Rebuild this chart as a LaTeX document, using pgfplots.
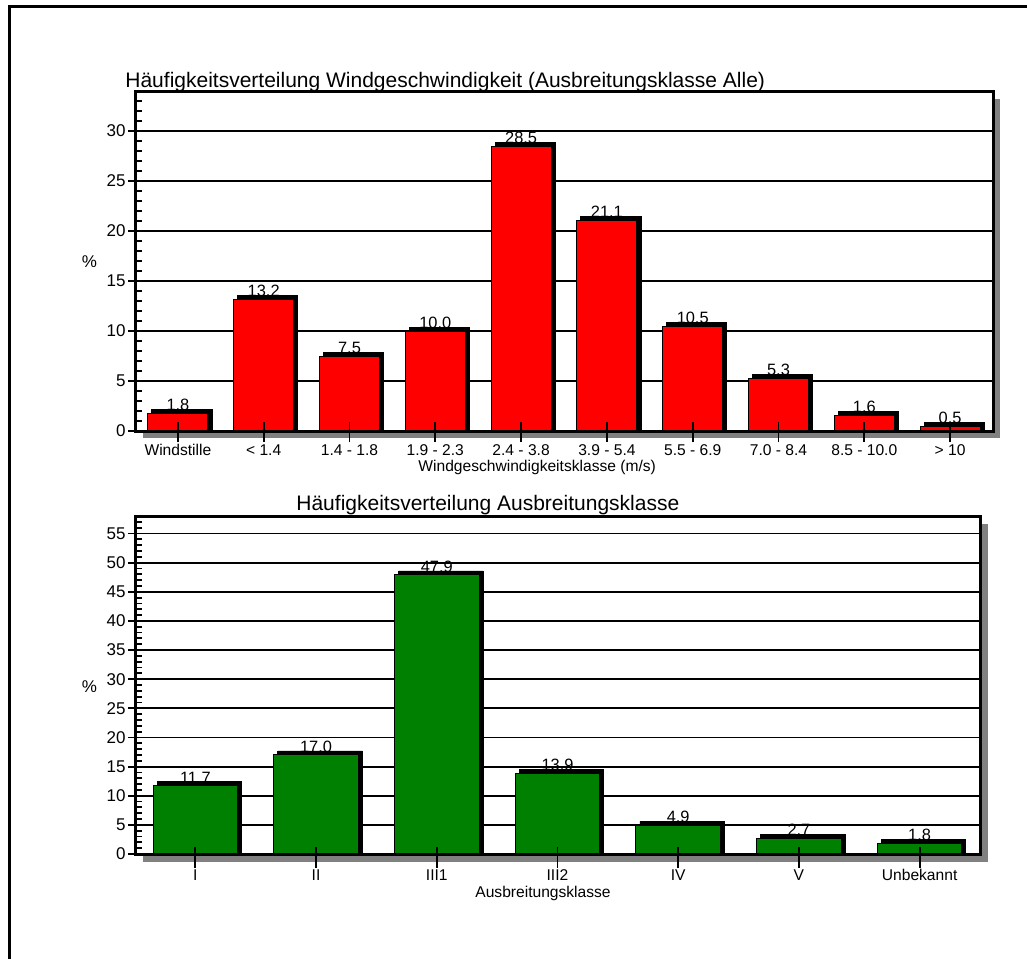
\documentclass[border=0pt]{standalone}
\usepackage{fontspec}
\setmainfont{Liberation Sans}
\usepackage{pgfplots}
\usepackage{pgfplotstable}
\pgfplotsset{compat=1.18}
\definecolor{shadowgray}{HTML}{808080}
\definecolor{barred}{HTML}{FF0000}
\definecolor{bargreen}{HTML}{008000}
\newcommand\titlefont{\fontsize{10.5pt}{12pt}\selectfont}
\newcommand\labfont{\fontsize{7.8pt}{9pt}\selectfont}
\newcommand\ytfont{\fontsize{8.5pt}{10pt}\selectfont}
\newcommand\valfont{\fontsize{8.2pt}{10pt}\selectfont}

\pgfplotstableread{
x y
0 1.8
1 13.2
2 7.5
3 10.0
4 28.5
5 21.1
6 10.5
7 5.3
8 1.6
9 0.5
}\windtab

\pgfplotstableread{
x y
0 11.7
1 17.0
2 47.9
3 13.9
4 4.9
5 2.7
6 1.8
}\klassetab

\pgfplotsset{
  basestyle/.style={
    anchor=south west, scale only axis, clip=false,
    xmin=-0.5, ymin=0,
    axis line style={line width=1.5pt, black},
    tick pos=left,
    /pgf/number format/assume math mode=true,
  },
}

\begin{document}
\begin{tikzpicture}
\useasboundingbox (0pt,0pt) rectangle (513.5pt,-479pt);
% outer frame
\draw[line width=1.5pt, black] (4.75pt,-480pt) -- (4.75pt,-3.25pt) -- (514pt,-3.25pt);
% axis shadows
\fill[shadowgray] (71.5pt,-49.5pt) rectangle (500pt,-219pt);
\fill[shadowgray] (71.5pt,-262pt) rectangle (494pt,-431pt);

% ---------- top chart ----------
\begin{axis}[basestyle,
  at={(67.5pt,-215.5pt)}, width=429pt, height=170pt,
  xmax=9.5, ymax=34,
  axis background/.style={fill=white},
  xtick={0,...,9},
  xticklabels={Windstille,{< 1.4},{1.4 - 1.8},{1.9 - 2.3},{2.4 - 3.8},{3.9 - 5.4},{5.5 - 6.9},{7.0 - 8.4},{8.5 - 10.0},{> 10}},
  major x tick style={draw=none},
  xticklabel style={font=\labfont, anchor=base, yshift=-8.5pt},
  ytick={0,5,...,30},
  minor ytick={0,1,...,34},
  ymajorgrids, major grid style={line width=0.9pt, black},
  tick align=outside, major tick length=3.5pt, minor tick length=3.5pt,
  minor y tick style={xshift=3.5pt},
  ytick style={line width=0.9pt, black},
  yticklabel style={font=\ytfont, inner sep=1pt},
]
\addplot[ybar, bar width=0.7, bar shift=0pt, draw=none, fill=none,
  nodes near coords={\pgfmathprintnumber[fixed,fixed zerofill,precision=1]{\pgfplotspointmeta}},
  every node near coord/.append style={font=\valfont, text=black, inner sep=0pt, yshift=1pt}]
  table[x=x, y=y] {\windtab};
\addplot[ybar, bar width=0.7, bar shift=2pt, draw=black, fill=black]
  table[x=x, y expr=\thisrow{y}+0.4] {\windtab};
\addplot[ybar, bar width=0.7, bar shift=0pt, draw=black, line width=0.5pt, fill=barred]
  table[x=x, y=y] {\windtab};
\end{axis}
\begin{axis}[basestyle,
  at={(67.5pt,-215.5pt)}, width=429pt, height=170pt,
  xmax=9.5, ymax=34,
  xtick={0,...,9}, xticklabels={}, ytick=\empty,
  tick align=center, major tick length=10pt,
  xtick style={line width=0.9pt, black, yshift=-0.5pt},
]
\end{axis}

% ---------- bottom chart ----------
\begin{axis}[basestyle,
  at={(67.5pt,-427pt)}, width=422.5pt, height=169pt,
  xmax=6.5, ymax=58,
  axis background/.style={fill=white},
  xtick={0,...,6},
  xticklabels={I,II,III1,III2,IV,V,Unbekannt},
  major x tick style={draw=none},
  xticklabel style={font=\labfont, anchor=base, yshift=-9.5pt},
  ytick={0,5,...,55},
  minor ytick={0,1,...,58},
  ymajorgrids, major grid style={line width=0.9pt, black},
  tick align=outside, major tick length=3.5pt, minor tick length=3.5pt,
  minor y tick style={xshift=3.5pt},
  ytick style={line width=0.9pt, black},
  yticklabel style={font=\ytfont, inner sep=1pt},
]
\addplot[ybar, bar width=0.7, bar shift=0pt, draw=none, fill=none,
  nodes near coords={\pgfmathprintnumber[fixed,fixed zerofill,precision=1]{\pgfplotspointmeta}},
  every node near coord/.append style={font=\valfont, text=black, inner sep=0pt, yshift=1pt}]
  table[x=x, y=y] {\klassetab};
\addplot[ybar, bar width=0.7, bar shift=2pt, draw=black, fill=black]
  table[x=x, y expr=\thisrow{y}+0.68] {\klassetab};
\addplot[ybar, bar width=0.7, bar shift=0pt, draw=black, line width=0.5pt, fill=bargreen]
  table[x=x, y=y] {\klassetab};
\end{axis}
\begin{axis}[basestyle,
  at={(67.5pt,-427pt)}, width=422.5pt, height=169pt,
  xmax=6.5, ymax=58,
  xtick={0,...,6}, xticklabels={}, ytick=\empty,
  tick align=center, major tick length=10.5pt,
  xtick style={line width=0.9pt, black, yshift=-1.5pt},
]
\end{axis}

% ---------- texts ----------
\node[anchor=base west, inner sep=0pt, font=\titlefont] at (62.5pt,-43.5pt) {Häufigkeitsverteilung Windgeschwindigkeit (Ausbreitungsklasse Alle)};
\node[anchor=base west, inner sep=0pt, font=\labfont] at (209pt,-235.5pt) {Windgeschwindigkeitsklasse (m/s)};
\node[anchor=base, inner sep=0pt, font=\ytfont] at (44.75pt,-133.5pt) {\%};
\node[anchor=base west, inner sep=0pt, font=\titlefont] at (148pt,-255pt) {Häufigkeitsverteilung Ausbreitungsklasse};
\node[anchor=base west, inner sep=0pt, font=\labfont] at (237.5pt,-448.5pt) {Ausbreitungsklasse};
\node[anchor=base, inner sep=0pt, font=\ytfont] at (44.75pt,-346pt) {\%};
\end{tikzpicture}
\end{document}
